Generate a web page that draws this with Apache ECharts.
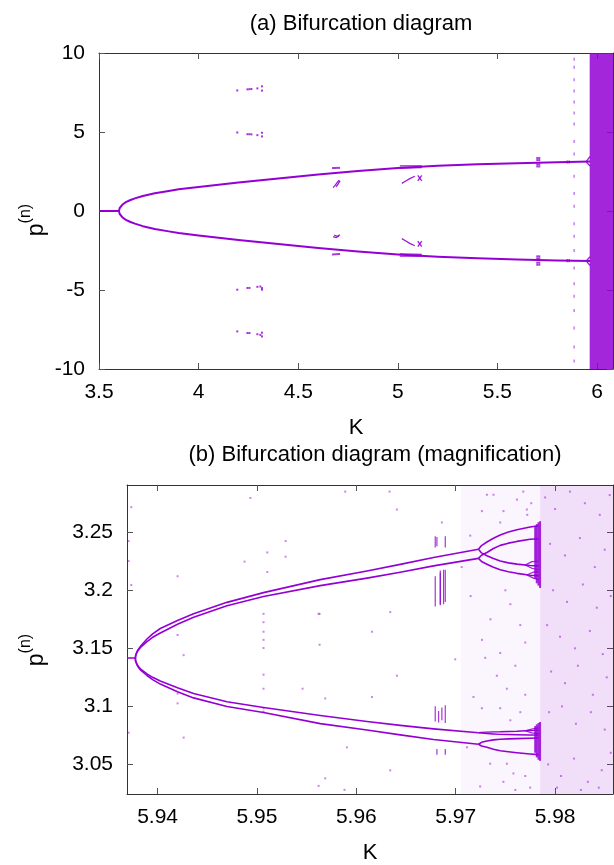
<!DOCTYPE html>
<html><head><meta charset="utf-8">
<script src="https://cdn.jsdelivr.net/npm/echarts@6/dist/echarts.min.js"></script>
<style>html,body{margin:0;padding:0;background:#fff}#c{width:614px;height:865px}</style>
</head><body><div id="c"></div>
<script>
// ---------------- texts & ticks ----------------
const titleA = '(a) Bifurcation diagram';
const titleB = '(b) Bifurcation diagram (magnification)';
const xNameAll = 'K';
const xTicksA = [3.5, 4, 4.5, 5, 5.5, 6];
const yTicksA = [-10, -5, 0, 5, 10];
const xTicksB = [5.94, 5.95, 5.96, 5.97, 5.98];
const yTicksB = [3.05, 3.1, 3.15, 3.2, 3.25];

// ---------------- panel (a) ----------------
const kFixedA = [3.5, 3.6];
const pFixedA = [0, 0];
const kBranchA = [3.6, 3.601, 3.604, 3.61, 3.62, 3.635, 3.655, 3.68, 3.72, 3.78, 3.85, 3.9, 4.0, 4.2, 4.4, 4.6, 4.8, 5.0, 5.2, 5.4, 5.6, 5.8, 5.965];
const pUpperA  = [0, 0.1, 0.19, 0.3, 0.43, 0.56, 0.68, 0.8, 0.95, 1.12, 1.27, 1.37, 1.52, 1.80, 2.06, 2.31, 2.53, 2.72, 2.86, 2.96, 3.03, 3.09, 3.13];
const pLowerA  = [0, -0.1, -0.19, -0.3, -0.43, -0.56, -0.68, -0.8, -0.96, -1.14, -1.29, -1.39, -1.55, -1.83, -2.09, -2.34, -2.56, -2.75, -2.89, -2.99, -3.07, -3.13, -3.17];
// isolated periodic-window points
const windowDotsA = [
  [4.194, 7.63], [4.245, 7.70], [4.255, 7.71], [4.265, 7.72], [4.295, 7.76], [4.318, 7.62], [4.318, 7.89],
  [4.194, 4.97], [4.245, 4.86], [4.255, 4.86], [4.265, 4.85], [4.295, 4.80], [4.318, 4.72], [4.318, 4.95],
  [4.194, -4.98], [4.245, -4.87], [4.255, -4.87], [4.295, -4.80], [4.31, -4.78], [4.318, -4.98], [4.318, -4.88],
  [4.194, -7.62], [4.245, -7.72], [4.255, -7.72], [4.295, -7.80], [4.31, -7.84], [4.318, -7.94], [4.318, -7.70],
  [4.675, 2.72], [4.685, 2.72], [4.695, 2.73], [4.705, 2.73], [4.675, -2.75], [4.685, -2.74], [4.695, -2.73], [4.705, -2.72],
  [5.70, 3.35], [5.70, 3.22], [5.70, 2.95], [5.70, 2.82], [5.71, 3.35], [5.71, 3.22], [5.71, 2.95], [5.71, 2.82],
  [5.70, -2.87], [5.70, -3.0], [5.70, -3.27], [5.70, -3.40], [5.71, -2.87], [5.71, -3.0], [5.71, -3.27], [5.71, -3.40]
];
// small curve pieces in the windows
const windowCurvesA = [
  [[4.675, 1.48], [4.685, 1.62], [4.695, 1.80], [4.705, 1.96]],
  [[4.690, 1.52], [4.700, 1.70], [4.710, 1.92]],
  [[4.675, -1.62], [4.690, -1.68], [4.705, -1.58]],
  [[4.680, -1.52], [4.695, -1.60], [4.710, -1.50]],
  [[5.020, 1.75], [5.040, 1.90], [5.060, 2.05], [5.085, 2.20]],
  [[5.100, 1.90], [5.120, 2.25]], [[5.100, 2.25], [5.120, 1.90]],
  [[5.020, -1.75], [5.040, -1.90], [5.060, -2.05], [5.085, -2.20]],
  [[5.100, -1.90], [5.120, -2.25]], [[5.100, -2.25], [5.120, -1.90]],
  [[5.010, 2.86], [5.120, 2.86]], [[5.010, 2.72], [5.120, 2.74]],
  [[5.010, -2.86], [5.120, -2.86]], [[5.010, -2.72], [5.120, -2.74]],
  [[5.850, 3.00], [5.850, 3.20]], [[5.860, 3.00], [5.860, 3.20]],
  [[5.850, -3.04], [5.850, -3.24]], [[5.860, -3.04], [5.860, -3.24]],
  [[5.945, 3.12], [5.965, 3.45]], [[5.945, 3.12], [5.965, 2.85]],
  [[5.945, -3.16], [5.965, -3.45]], [[5.945, -3.16], [5.965, -2.90]]
];
// sparse vertical line of points near K = 5.885
const kVertA = 5.885;
const pVertA = [9.6, 9.1, 8.3, 7.6, 6.9, 6.2, 5.5, 4.4, 3.6, 2.2, 1.1, 0.3, -0.8, -1.6, -2.5, -3.6, -4.6, -5.4, -6.3, -7.4, -8.6, -9.5];
// chaotic band (K range, p range)
const chaosKA = [5.963, 6.08];
const chaosPA = [-10, 10];

// ---------------- panel (b) ----------------
const kFixedB = [5.93692, 5.93776];
const pFixedB = [3.1416, 3.1416];
const kBranchB   = [5.93776, 5.93779, 5.93785, 5.93795, 5.93809, 5.93830, 5.93850, 5.93893, 5.93950, 5.94027, 5.94200, 5.94362, 5.94698, 5.95066, 5.95637, 5.96107, 5.96442, 5.96777, 5.97229];
const pUpOuterB  = [3.1413, 3.1438, 3.1456, 3.1475, 3.1495, 3.1520, 3.1540, 3.1580, 3.1625, 3.1671, 3.1740, 3.1797, 3.1896, 3.1980, 3.2092, 3.2166, 3.2223, 3.2282, 3.2353];
const pUpInnerB  = [3.1413, 3.1436, 3.1452, 3.1470, 3.1488, 3.1510, 3.1527, 3.1558, 3.1595, 3.1632, 3.1708, 3.1768, 3.1866, 3.1947, 3.2040, 3.2105, 3.2155, 3.2210, 3.2275];
const pLowInnerB = [3.1413, 3.1390, 3.1375, 3.1358, 3.1340, 3.1320, 3.1305, 3.1280, 3.1250, 3.1218, 3.1160, 3.1110, 3.1039, 3.0990, 3.0921, 3.0869, 3.0836, 3.0806, 3.0773];
const pLowOuterB = [3.1413, 3.1388, 3.1372, 3.1354, 3.1335, 3.1312, 3.1295, 3.1266, 3.1230, 3.1192, 3.1125, 3.1073, 3.0999, 3.0947, 3.0851, 3.0796, 3.0754, 3.0715, 3.0674];
// branches after the second period doubling
const kDoubleB = [5.97229, 5.97260, 5.97314, 5.97380, 5.97448, 5.97530, 5.97616, 5.97749, 5.97833];
const pBranchA_B = [3.2353, 3.2385, 3.2416, 3.2448, 3.2477, 3.2502, 3.2522, 3.2545, 3.2556];
const pBranchB_B = [3.2353, 3.2322, 3.2298, 3.2273, 3.2252, 3.2236, 3.2225, 3.2214, 3.2210];
const pBranchC_B = [3.2275, 3.2302, 3.2326, 3.2360, 3.2387, 3.2406, 3.2421, 3.2440, 3.2444];
const pBranchD_B = [3.2275, 3.2248, 3.2225, 3.2198, 3.2177, 3.2160, 3.2146, 3.2129, 3.2125];
const pBranchE_B = [3.0773, 3.0776, 3.0778, 3.0780, 3.0781, 3.0784, 3.0786, 3.0792, 3.0795];
const pBranchF_B = [3.0773, 3.0769, 3.0766, 3.0762, 3.0759, 3.0757, 3.0755, 3.0753, 3.0752];
const pBranchG_B = [3.0674, 3.0690, 3.0702, 3.0711, 3.0717, 3.0720, 3.0722, 3.0725, 3.0727];
const pBranchH_B = [3.0674, 3.0659, 3.0647, 3.0631, 3.0618, 3.0609, 3.0601, 3.0590, 3.0584];
// small loops (further doubling) just before chaos
const loopsB = [
  [[5.97699, 3.2218], [5.97766, 3.2247], [5.97833, 3.2250]],
  [[5.97699, 3.2218], [5.97766, 3.2190], [5.97833, 3.2177]],
  [[5.97716, 3.2132], [5.97783, 3.2157], [5.97833, 3.2160]],
  [[5.97716, 3.2132], [5.97783, 3.2105], [5.97833, 3.2092]],
  [[5.97699, 3.0790], [5.97766, 3.0805], [5.97833, 3.0815]],
  [[5.97699, 3.0790], [5.97766, 3.0772], [5.97833, 3.0765]]
];
// fan-shaped bursts at the onset of chaos: K, p low, p high
const fanKB  = [5.97800, 5.97816, 5.97833, 5.97849, 5.97800, 5.97816, 5.97833, 5.97849];
const fanLoB = [3.2100, 3.2060, 3.2040, 3.2020, 3.0600, 3.0560, 3.0540, 3.0531];
const fanHiB = [3.2545, 3.2570, 3.2586, 3.2595, 3.0830, 3.0845, 3.0857, 3.0865];
// periodic window near K = 5.968: K, p low, p high
const winKB  = [5.96794, 5.96811, 5.96845, 5.96878, 5.96895, 5.96794, 5.96845, 5.96895, 5.96794, 5.96828, 5.96861, 5.96895, 5.96811, 5.96895];
const winLoB = [3.2368, 3.2380, 3.1870, 3.1880, 3.2368, 3.1860, 3.1880, 3.1900, 3.0870, 3.0860, 3.0880, 3.0857, 3.0584, 3.0584];
const winHiB = [3.2466, 3.2460, 3.2170, 3.2177, 3.2466, 3.2120, 3.2150, 3.2177, 3.1000, 3.0960, 3.0990, 3.1010, 3.0632, 3.0632];
// isolated scattered points
const scatterB = [
  [5.93735, 3.2716], [5.93708, 3.2424], [5.93708, 3.2252], [5.93735, 3.2045], [5.94933, 3.2795], [5.95288, 3.2424],
  [5.95288, 3.2289], [5.94875, 3.2247], [5.95104, 3.2326], [5.95104, 3.2157], [5.94201, 3.2121], [5.94201, 3.1615],
  [5.94262, 3.1441], [5.94201, 3.1110], [5.94201, 3.1026], [5.94262, 3.0731], [5.93708, 3.0773], [5.95066, 3.1797],
  [5.95066, 3.1725], [5.95066, 3.1643], [5.95066, 3.1573], [5.95066, 3.1503], [5.95066, 3.1273], [5.95066, 3.1152],
  [5.95066, 3.0984], [5.95066, 3.0955], [5.95459, 3.1152], [5.95630, 3.1797], [5.95630, 3.1531], [5.95620, 3.0315],
  [5.95888, 3.2850], [5.96334, 3.2850], [5.96408, 3.2696], [5.96861, 3.2584], [5.97146, 3.2471], [5.97314, 3.2823],
  [5.97380, 3.2823], [5.97264, 3.2682], [5.97481, 3.2682], [5.97448, 3.2584], [5.97616, 3.2781], [5.97716, 3.2696],
  [5.95620, 3.1797], [5.96341, 3.1812], [5.96157, 3.1643], [5.96408, 3.1264], [5.96157, 3.1081], [5.95687, 3.1068],
  [5.96995, 3.1405], [5.97264, 3.1573], [5.97297, 3.1418], [5.97448, 3.1460], [5.97414, 3.1264], [5.97515, 3.1152],
  [5.95905, 3.0647], [5.95687, 3.0380], [5.95881, 3.0281], [5.96341, 3.0449], [5.97246, 3.0310], [5.97347, 3.0506],
  [5.97179, 3.1081], [5.97515, 3.0506], [5.97581, 3.0422], [5.97448, 3.0984], [5.97264, 3.0984], [5.97113, 3.0647],
  [5.97060, 3.2200], [5.97150, 3.1950], [5.97350, 3.1750], [5.97550, 3.1880], [5.97650, 3.1700], [5.97700, 3.1550],
  [5.97500, 3.2000], [5.97600, 3.1350], [5.97700, 3.1100], [5.97650, 3.0950], [5.97550, 3.0880], [5.97700, 3.0400],
  [5.97750, 3.0300], [5.97600, 3.0280], [5.97480, 3.0350], [5.97720, 3.2650], [5.97760, 3.2750], [5.97680, 3.2850],
  [5.97900, 3.2800], [5.98000, 3.2700], [5.98150, 3.2850], [5.98300, 3.2750], [5.98450, 3.2650], [5.98550, 3.2820],
  [5.97950, 3.2400], [5.98100, 3.2300], [5.98250, 3.2450], [5.98400, 3.2200], [5.98500, 3.2350], [5.97980, 3.2000],
  [5.98120, 3.1900], [5.98280, 3.2050], [5.98420, 3.1850], [5.98560, 3.1950], [5.97920, 3.1700], [5.98050, 3.1600],
  [5.98200, 3.1500], [5.98350, 3.1650], [5.98480, 3.1450], [5.97960, 3.1300], [5.98100, 3.1200], [5.98230, 3.1350],
  [5.98380, 3.1100], [5.98520, 3.1250], [5.97940, 3.0950], [5.98070, 3.1000], [5.98210, 3.0850], [5.98360, 3.0950],
  [5.98500, 3.0800], [5.97930, 3.0500], [5.98060, 3.0400], [5.98190, 3.0550], [5.98330, 3.0350], [5.98470, 3.0450],
  [5.98020, 3.0300], [5.98260, 3.0280], [5.98440, 3.0300], [5.98560, 3.0600]
];
const chaosKB = [5.9785, 5.98583];
const chaosLightKB = [5.9705, 5.9785];

// ---------------- build ----------------
const purple = '#9400D3';
const font = "'Liberation Sans', Arial, sans-serif";
function zip(ks, ps) { return ks.map((k, i) => [k, ps[i]]); }
function segs(ks, lo, hi) { return ks.map((k, i) => ({ coords: [[k, lo[i]], [k, hi[i]]] })); }

function curve(name, data, xi, yi, w) {
  return { name, type: 'line', xAxisIndex: xi, yAxisIndex: yi, data, smooth: false, symbol: 'none',
           lineStyle: { color: purple, width: w, join: 'round' }, silent: true, animation: false, z: 3 };
}
function linesSeries(name, data, xi, yi, w, op) {
  return { name, type: 'lines', coordinateSystem: 'cartesian2d', polyline: true, xAxisIndex: xi, yAxisIndex: yi,
           data, lineStyle: { color: purple, width: w, opacity: op }, silent: true, animation: false, z: 3 };
}
function dots(name, data, xi, yi, size, color) {
  return { name, type: 'scatter', xAxisIndex: xi, yAxisIndex: yi, data, symbol: 'rect', symbolSize: size,
           itemStyle: { color }, silent: true, animation: false, z: 2 };
}

const axLine = { show: true, onZero: false, lineStyle: { color: '#333', width: 1 } };
const tick = { show: true, inside: true, length: 6, lineStyle: { color: '#555' } };
const lbl = { color: '#000', fontSize: 21, fontFamily: font };

function xAx(grid, pos, min, max, ticks, show) {
  return { type: 'value', gridIndex: grid, position: pos, min, max,
    splitLine: { show: false }, axisLine: axLine,
    axisTick: Object.assign({}, tick, { customValues: ticks }),
    axisLabel: Object.assign({}, lbl, { show, margin: 13, customValues: ticks }),
    name: show ? xNameAll : '', nameLocation: 'middle', nameGap: 48,
    nameTextStyle: { color: '#000', fontSize: 22, fontFamily: font } };
}
function yAx(grid, pos, min, max, ticks, show) {
  return { type: 'value', gridIndex: grid, position: pos, min, max,
    splitLine: { show: false }, axisLine: axLine,
    axisTick: Object.assign({}, tick, { customValues: ticks }),
    axisLabel: Object.assign({}, lbl, { show, margin: 14, customValues: ticks }) };
}
const yNameRich = {
  p: { fontSize: 23, fontFamily: font, color: '#000', lineHeight: 30, verticalAlign: 'bottom' },
  s: { fontSize: 16, fontFamily: font, color: '#000', lineHeight: 16, verticalAlign: 'top' }
};

const option = {
  animation: false,
  backgroundColor: '#fff',
  title: [
    { text: titleA, left: 356, textAlign: 'center', top: 8, textStyle: { fontSize: 22, fontWeight: 'normal', color: '#000', fontFamily: font } },
    { text: titleB, left: 370, textAlign: 'center', top: 439, textStyle: { fontSize: 22, fontWeight: 'normal', color: '#000', fontFamily: font } }
  ],
  graphic: [
    { type: 'text', x: 33, y: 220, rotation: Math.PI / 2, silent: true,
      style: { text: '{p|p}{s|(n)}', rich: yNameRich, align: 'center', verticalAlign: 'middle' } },
    { type: 'text', x: 33, y: 650, rotation: Math.PI / 2, silent: true,
      style: { text: '{p|p}{s|(n)}', rich: yNameRich, align: 'center', verticalAlign: 'middle' } }
  ],
  grid: [
    { left: 99, top: 53, width: 514, height: 316 },
    { left: 127, top: 485, width: 486, height: 316 }
  ],
  xAxis: [
    xAx(0, 'bottom', 3.5, 6.08, xTicksA, true),
    xAx(0, 'top', 3.5, 6.08, xTicksA, false),
    xAx(1, 'bottom', 5.93692, 5.98583, xTicksB, true),
    xAx(1, 'top', 5.93692, 5.98583, xTicksB, false)
  ],
  yAxis: [
    yAx(0, 'left', -10, 10, yTicksA, true),
    yAx(0, 'right', -10, 10, yTicksA, false),
    yAx(1, 'left', 3.0245, 3.2907, yTicksB, true),
    yAx(1, 'right', 3.0245, 3.2907, yTicksB, false)
  ],
  series: [
    // ----- panel a -----
    { name: 'chaosA', type: 'line', xAxisIndex: 0, yAxisIndex: 0, data: [[chaosKA[0], chaosPA[0]]], symbol: 'none',
      lineStyle: { width: 0 }, silent: true, z: 1,
      markArea: { silent: true, itemStyle: { color: purple, opacity: 0.85 },
        data: [[{ coord: [chaosKA[0], chaosPA[0]] }, { coord: [chaosKA[1], chaosPA[1]] }]] } },
    curve('fixedA', zip(kFixedA, pFixedA), 0, 0, 2),
    curve('upperA', zip(kBranchA, pUpperA), 0, 0, 2),
    curve('lowerA', zip(kBranchA, pLowerA), 0, 0, 2),
    linesSeries('windowCurvesA', windowCurvesA.map(c => ({ coords: c })), 0, 0, 1.3, 0.9),
    dots('windowDotsA', windowDotsA, 0, 0, 2, purple),
    dots('vertA', pVertA.map(p => [kVertA, p]), 0, 0, [1.5, 3], '#b45ee6'),
    // ----- panel b -----
    { name: 'chaosB', type: 'line', xAxisIndex: 2, yAxisIndex: 2, data: [[chaosKB[0], 3.05]], symbol: 'none',
      lineStyle: { width: 0 }, silent: true, z: 1,
      markArea: { silent: true,
        data: [
          [{ coord: [chaosKB[0], 3.0245], itemStyle: { color: purple, opacity: 0.13 } }, { coord: [chaosKB[1], 3.2907] }],
          [{ coord: [chaosLightKB[0], 3.0245], itemStyle: { color: purple, opacity: 0.04 } }, { coord: [chaosLightKB[1], 3.2907] }]
        ] } },
    dots('scatterB', scatterB, 2, 2, 2, 'rgba(148,0,211,0.6)'),
    curve('fixedB', zip(kFixedB, pFixedB), 2, 2, 1.6),
    curve('upOuterB', zip(kBranchB, pUpOuterB), 2, 2, 1.6),
    curve('upInnerB', zip(kBranchB, pUpInnerB), 2, 2, 1.6),
    curve('lowInnerB', zip(kBranchB, pLowInnerB), 2, 2, 1.6),
    curve('lowOuterB', zip(kBranchB, pLowOuterB), 2, 2, 1.6),
    curve('brA', zip(kDoubleB, pBranchA_B), 2, 2, 1.6),
    curve('brB', zip(kDoubleB, pBranchB_B), 2, 2, 1.6),
    curve('brC', zip(kDoubleB, pBranchC_B), 2, 2, 1.6),
    curve('brD', zip(kDoubleB, pBranchD_B), 2, 2, 1.6),
    curve('brE', zip(kDoubleB, pBranchE_B), 2, 2, 1.4),
    curve('brF', zip(kDoubleB, pBranchF_B), 2, 2, 1.4),
    curve('brG', zip(kDoubleB, pBranchG_B), 2, 2, 1.6),
    curve('brH', zip(kDoubleB, pBranchH_B), 2, 2, 1.6),
    linesSeries('loopsB', loopsB.map(c => ({ coords: c })), 2, 2, 1.2, 0.9),
    linesSeries('fansB', segs(fanKB, fanLoB, fanHiB), 2, 2, 2, 0.85),
    linesSeries('windowB', segs(winKB, winLoB, winHiB), 2, 2, 1.2, 0.8)
  ]
};
const chart = echarts.init(document.getElementById('c'), null, { renderer: 'canvas' });
chart.setOption(option);
</script></body></html>
